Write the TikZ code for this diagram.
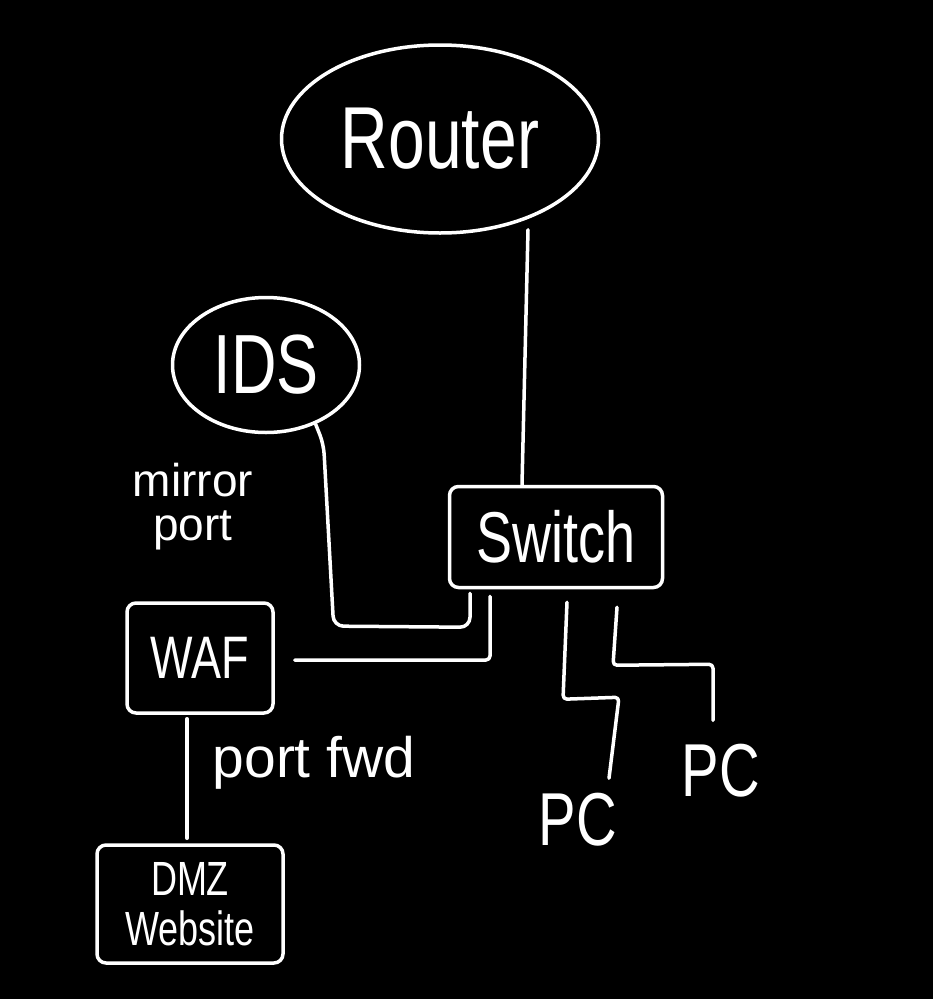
\documentclass[tikz,border=0pt]{standalone}
\usepackage{fontspec}
\setmainfont{Liberation Sans}
\newfontfamily\narrowf[FakeStretch=0.75]{Liberation Sans}
\usetikzlibrary{shapes.geometric,calc}
\tikzset{
  wire/.style={draw=white, line width=3.5pt, line cap=round, line join=round},
  oval/.style={ellipse, draw=white, line width=3.5pt, inner sep=0pt, text=white},
  devbox/.style={rectangle, rounded corners=9pt, draw=white, line width=3.5pt, inner sep=0pt, text=white},
  lbl/.style={text=white, inner sep=0pt, align=center},
}
\begin{document}
\begin{tikzpicture}[x=1pt,y=-1pt]
\fill[black] (0,0) rectangle (933,999);
\useasboundingbox (0,0) rectangle (933,999);

\node[oval, minimum width=317pt, minimum height=188pt, font=\narrowf\fontsize{88}{92}\selectfont] (router) at (440,139) {Router};
\node[oval, minimum width=187pt, minimum height=135pt, font=\narrowf\fontsize{84}{88}\selectfont] (ids) at (266,365) {IDS};
\node[devbox, minimum width=213pt, minimum height=101pt, font=\narrowf\fontsize{72}{76}\selectfont] (switch) at (556,537) {Switch};
\node[devbox, minimum width=146pt, minimum height=110pt, font=\narrowf\fontsize{60}{64}\selectfont] (waf) at (200,658) {WAF};
\node[devbox, minimum width=186pt, minimum height=118pt, align=center, font=\narrowf\fontsize{48}{50}\selectfont] (dmz) at (190,904) {DMZ\\Website};

\node[lbl, font=\narrowf\fontsize{75}{80}\selectfont] (pc1) at (578,820) {PC};
\node[lbl, font=\narrowf\fontsize{75}{80}\selectfont] (pc2) at (721,771) {PC};
\node[lbl, font=\fontsize{46}{44}\selectfont] (mirror) at (193,507) {mirror\\port};
\node[lbl, font=\fontsize{57}{60}\selectfont] (fwd) at (314,763) {port fwd};

% router - switch
\draw[wire] ($(router.south)+(88,-5)$) -- ($(switch.north)+(-34,0)$);
% ids - switch (mirror port)
\draw[wire, rounded corners=10pt] (ids.-50) -- ++(8,20) -- ++(10,182) -- ($(switch.south)+(-86,38)$) -- ($(switch.south)+(-86,4)$);
% waf - switch
\draw[wire, rounded corners=4pt] ($(waf.east)+(20,2)$) -| ($(switch.south)+(-66,7)$);
% switch - pc1
\draw[wire, rounded corners=4pt] ($(switch.south)+(11,13)$) -- ++(-4,97) -- ++(56,-2) -- ($(pc1.north)+(31,-15)$);
% switch - pc2
\draw[wire, rounded corners=4pt] ($(switch.south)+(61,18)$) -- ++(-4,58) -- ++(100,-1) -- ($(pc2.north)+(-8,-24)$);
% waf - dmz
\draw[wire] ($(waf.south)+(-13,4)$) -- ($(dmz.north)+(-3,-5)$);
\end{tikzpicture}
\end{document}
